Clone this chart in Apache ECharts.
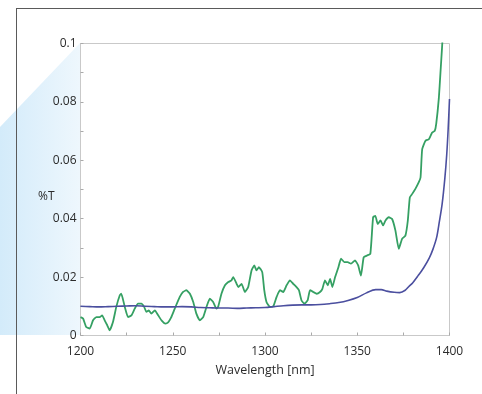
<!DOCTYPE html>
<html>
<head>
<meta charset="utf-8">
<script src="https://cdn.jsdelivr.net/npm/echarts@6/dist/echarts.min.js"></script>
<style>
  html, body { margin: 0; padding: 0; background: #ffffff; }
  #chart { width: 482px; height: 394px; }
</style>
</head>
<body>
<div id="chart"></div>
<script>
// Transmittance spectra, wavelength in nm, transmittance as %T fraction
const greenWavelength = [
  1200.0, 1201.4, 1203.1, 1205.0, 1206.8, 1208.6, 1210.4, 1211.7, 1213.1, 1214.5,
  1215.8, 1217.6, 1219.4, 1221.3, 1222.1, 1224.0, 1225.8, 1227.6, 1229.4, 1231.2,
  1233.0, 1234.5, 1235.7, 1237.0, 1238.4, 1240.3, 1242.1, 1243.9, 1246.0, 1247.5,
  1249.0, 1251.1, 1253.8, 1255.6, 1257.4, 1259.3, 1261.1, 1262.8, 1264.7, 1266.5,
  1268.3, 1270.1, 1271.9, 1273.7, 1274.6, 1276.4, 1278.3, 1280.1, 1281.8, 1282.8,
  1284.6, 1285.5, 1287.3, 1289.1, 1290.9, 1292.7, 1294.2, 1295.4, 1296.7, 1298.5,
  1299.6, 1300.8, 1302.7, 1304.5, 1306.3, 1308.1, 1309.9, 1311.7, 1313.5, 1315.3,
  1317.1, 1318.4, 1319.8, 1321.3, 1323.1, 1324.4, 1326.2, 1328.0, 1329.8, 1331.1,
  1332.5, 1334.0, 1335.3, 1336.5, 1338.0, 1339.8, 1341.2, 1343.0, 1344.8, 1346.6,
  1348.8, 1350.5, 1352.0, 1353.5, 1355.3, 1357.1, 1358.6, 1359.8, 1361.1, 1362.6,
  1364.0, 1365.3, 1367.1, 1368.9, 1370.7, 1372.5, 1374.3, 1376.1, 1377.4, 1378.5,
  1379.8, 1381.5, 1383.3, 1384.3, 1385.2, 1387.0, 1388.8, 1390.6, 1392.0, 1392.8,
  1394.2, 1395.1, 1396.0, 1396.5
];
const greenT = [
  0.0063, 0.0058, 0.0029, 0.0024, 0.0052, 0.0063, 0.0063, 0.0069, 0.0052, 0.0035,
  0.0018, 0.0046, 0.0098, 0.0138, 0.0143, 0.0098, 0.0063, 0.0069, 0.0092, 0.0109,
  0.0109, 0.0098, 0.0081, 0.0086, 0.0075, 0.0086, 0.0069, 0.0052, 0.0041, 0.0045,
  0.0060, 0.0092, 0.0132, 0.0149, 0.0155, 0.0143, 0.0115, 0.0075, 0.0052, 0.0063,
  0.0098, 0.0126, 0.0115, 0.0092, 0.0098, 0.0143, 0.0172, 0.0183, 0.0189, 0.0200,
  0.0177, 0.0166, 0.0177, 0.0149, 0.0166, 0.0223, 0.0240, 0.0223, 0.0234, 0.0217,
  0.0155, 0.0115, 0.0098, 0.0100, 0.0132, 0.0155, 0.0149, 0.0172, 0.0189, 0.0177,
  0.0166, 0.0155, 0.0120, 0.0109, 0.0120, 0.0155, 0.0149, 0.0143, 0.0149, 0.0160,
  0.0189, 0.0172, 0.0194, 0.0166, 0.0200, 0.0234, 0.0263, 0.0251, 0.0251, 0.0246,
  0.0257, 0.0240, 0.0205, 0.0268, 0.0274, 0.0280, 0.0405, 0.0410, 0.0382, 0.0394,
  0.0377, 0.0394, 0.0405, 0.0399, 0.0359, 0.0297, 0.0331, 0.0342, 0.0393, 0.0473,
  0.0485, 0.0502, 0.0524, 0.0541, 0.0638, 0.0667, 0.0672, 0.0695, 0.0701, 0.0725,
  0.0811, 0.0900, 0.0990, 0.1050
];
const blueWavelength = [
  1200, 1205, 1210, 1215, 1220, 1225, 1230, 1235, 1240, 1245,
  1250, 1255, 1260, 1265, 1270, 1275, 1280, 1285, 1290, 1295,
  1300, 1305, 1310, 1315, 1320, 1325, 1330, 1335, 1340, 1345,
  1350, 1355, 1360, 1363, 1366, 1370, 1373, 1376, 1378, 1380,
  1383, 1386, 1389, 1391, 1393, 1394.5, 1396, 1397.5, 1398.5, 1399.3,
  1400
];
const blueT = [
  0.0100, 0.0099, 0.0098, 0.0099, 0.0100, 0.0101, 0.0102, 0.0100, 0.0099, 0.0098,
  0.0098, 0.0099, 0.0098, 0.0096, 0.0095, 0.0094, 0.0094, 0.0093, 0.0094, 0.0095,
  0.0096, 0.0099, 0.0102, 0.0104, 0.0105, 0.0105, 0.0106, 0.0109, 0.0113, 0.0120,
  0.0130, 0.0146, 0.0157, 0.0157, 0.0152, 0.0148, 0.0147, 0.0155, 0.0168, 0.0180,
  0.0205, 0.0232, 0.0265, 0.0295, 0.0335, 0.0390, 0.0450, 0.0540, 0.0620, 0.0710,
  0.0810
];
const xTickLabels = ['1200', '1250', '1300', '1350', '1400'];
const yTickLabels = ['0', '0.02', '0.04', '0.06', '0.08', '0.1'];

const pairs = (xs, ys) => xs.map((x, i) => [x, ys[i]]);

const chart = echarts.init(document.getElementById('chart'), null, { renderer: 'canvas' });
const font = '"Open Sans", "Noto Sans", sans-serif';

chart.setOption({
  animation: false,
  backgroundColor: '#ffffff',
  graphic: [
    {
      type: 'polygon',
      z: -10,
      shape: { points: [[0, 127], [80, 43], [80, 335], [0, 335]] },
      style: {
        fill: new echarts.graphic.LinearGradient(0, 0, 1, 0, [
          { offset: 0, color: '#d3ebfa' },
          { offset: 1, color: '#eef7fd' }
        ])
      }
    },
    {
      type: 'line', z: 10,
      shape: { x1: 16, y1: 8.5, x2: 482, y2: 8.5 },
      style: { stroke: '#5a5a5a', lineWidth: 1 }
    },
    {
      type: 'line', z: 10,
      shape: { x1: 16.5, y1: 8, x2: 16.5, y2: 394 },
      style: { stroke: '#5a5a5a', lineWidth: 1 }
    }
  ],
  grid: {
    left: 80.5, right: 32.5, top: 43.5, bottom: 58.5,
    show: true, backgroundColor: '#ffffff', borderColor: '#c9c9c9', borderWidth: 1
  },
  xAxis: {
    type: 'value', min: 1200, max: 1400, interval: 25,
    name: 'Wavelength [nm]', nameLocation: 'middle', nameGap: 35,
    nameMoveOverlap: false,
    nameTextStyle: { fontFamily: font, fontSize: 12.5, color: '#2b2b2b', verticalAlign: 'middle' },
    axisLine: { show: true, lineStyle: { color: '#c9c9c9' } },
    axisTick: { show: true, inside: true, length: 3, lineStyle: { color: '#aaaaaa' } },
    splitLine: { show: false },
    axisLabel: {
      fontFamily: font, fontSize: 12, color: '#2b2b2b', margin: 10,
      formatter: v => (xTickLabels.includes(String(Math.round(v))) ? String(Math.round(v)) : '')
    }
  },
  yAxis: {
    type: 'value', min: 0, max: 0.1, interval: 0.01,
    name: '%T', nameLocation: 'middle', nameRotate: 0, nameGap: 26,
    nameMoveOverlap: false,
    nameTextStyle: {
      fontFamily: font, fontSize: 12, color: '#2b2b2b',
      verticalAlign: 'top', lineHeight: 14
    },
    axisLine: { show: true, lineStyle: { color: '#c9c9c9' } },
    axisTick: { show: true, inside: true, length: 3, lineStyle: { color: '#aaaaaa' } },
    splitLine: { show: false },
    axisLabel: {
      fontFamily: font, fontSize: 12, color: '#2b2b2b', margin: 4,
      formatter: v => {
        const s = String(+v.toFixed(2));
        return yTickLabels.includes(s) ? s : '';
      }
    }
  },
  series: [
    {
      type: 'line', name: 'green', data: pairs(greenWavelength, greenT),
      showSymbol: false, clip: true, smooth: 0.15,
      lineStyle: { color: '#35a063', width: 1.8 }
    },
    {
      type: 'line', name: 'blue', data: pairs(blueWavelength, blueT),
      showSymbol: false, clip: true, smooth: 0.3,
      lineStyle: { color: '#4b4f9f', width: 1.6 }
    }
  ]
});
</script>
</body>
</html>
